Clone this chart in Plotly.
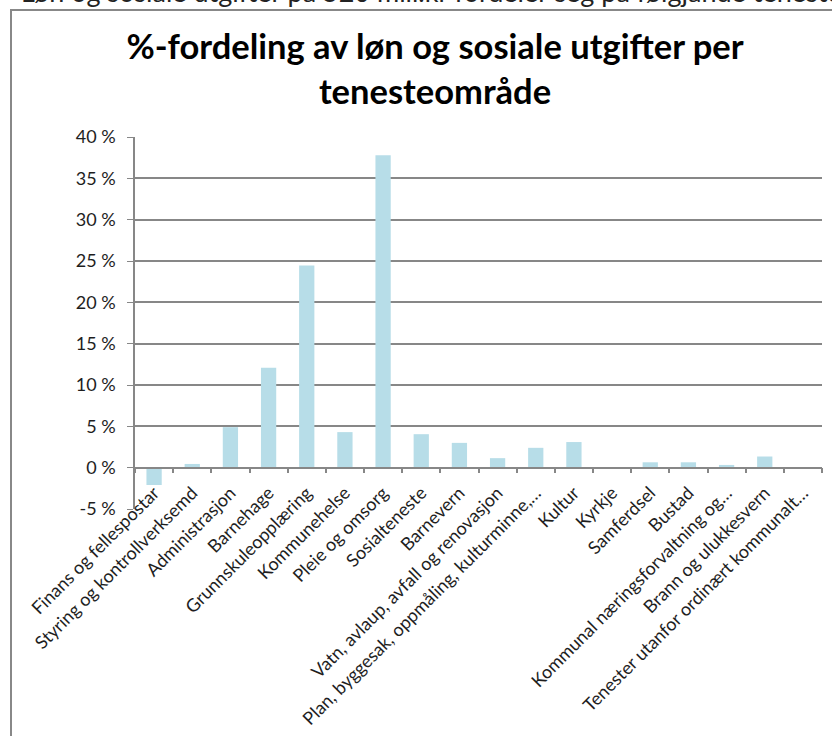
# %-fordeling av løn og sosiale utgifter per tenesteområde

import plotly.graph_objects as go

categories = [
    "Finans og fellespostar",
    "Styring og kontrollverksemd",
    "Administrasjon",
    "Barnehage",
    "Grunnskuleopplæring",
    "Kommunehelse",
    "Pleie og omsorg",
    "Sosialteneste",
    "Barnevern",
    "Vatn, avlaup, avfall og renovasjon",
    "Plan, byggesak, oppmåling, kulturminne,…",
    "Kultur",
    "Kyrkje",
    "Samferdsel",
    "Bustad",
    "Kommunal næringsforvaltning og…",
    "Brann og ulukkesvern",
    "Tenester utanfor ordinært kommunalt…",
]
share_pct = [-2.1, 0.45, 4.9, 12.1, 24.45, 4.3, 37.8, 4.05, 3.0, 1.15,
             2.4, 3.1, 0.0, 0.65, 0.65, 0.33, 1.35, 0.0]
zero_line = [0] * len(categories)

y_ticks = list(range(-5, 41, 5))
y_ticktext = [f"{v} %" for v in y_ticks]

title = "%-fordeling av løn og sosiale utgifter per<br>tenesteområde"
intro = "Løn og sosiale utgifter på 520 mill.kr fordeler seg på følgjande tenesteområde:"

FONT = "Lato, 'Open Sans', sans-serif"
GRID = "#878787"

# plot area in pixels (from the reference)
W, H = 832, 736
L, R, T, B = 135, 10, 137, 227
pw, ph = W - L - R, H - T - B


def px_x(x):
    return (x - L) / pw


def px_y(y):
    return (H - B - y) / ph


x_range = [-0.5, len(categories) - 0.5]

fig = go.Figure()
fig.add_trace(
    go.Bar(
        x=categories,
        y=share_pct,
        marker=dict(color="#b7dde8", line=dict(width=0)),
        hoverinfo="x+y",
    )
)
# invisible trace so the category axis at 0 % gets drawn
fig.add_trace(
    go.Scatter(
        x=categories,
        y=zero_line,
        xaxis="x2",
        mode="markers",
        marker=dict(opacity=0, size=1),
        hoverinfo="skip",
        showlegend=False,
    )
)

fig.update_layout(
    width=W,
    height=H,
    margin=dict(l=L, r=R, t=T, b=B),
    paper_bgcolor="white",
    plot_bgcolor="white",
    showlegend=False,
    bargap=0.6,
    font=dict(family=FONT, color="#222222", size=17),
    title=dict(
        text=title,
        font=dict(family=FONT, size=34.5, color="#000000", weight="bold"),
        x=435 / W,
        xanchor="center",
        xref="container",
        y=1 - 59 / H,
        yanchor="top",
        yref="container",
    ),
    xaxis=dict(
        type="category",
        range=x_range,
        tickangle=-45,
        showgrid=False,
        showline=False,
        ticks="",
        automargin=False,
        ticklabelstandoff=-31,
        ticklabelshift=0,
        tickfont=dict(family=FONT, size=18, color="#1e1e1e"),
    ),
    xaxis2=dict(
        matches="x",
        overlaying="x",
        anchor="free",
        position=5 / 45,
        showline=True,
        linecolor=GRID,
        linewidth=1.5,
        ticks="outside",
        tickson="boundaries",
        ticklen=5,
        tickcolor=GRID,
        tickwidth=1.5,
        showticklabels=False,
        showgrid=False,
        automargin=False,
    ),
    yaxis=dict(
        range=[-5, 40],
        tickvals=y_ticks,
        ticktext=y_ticktext,
        showgrid=True,
        gridcolor=GRID,
        gridwidth=1.5,
        zeroline=False,
        showline=True,
        linecolor=GRID,
        linewidth=1.5,
        ticks="outside",
        ticklen=6,
        tickcolor=GRID,
        automargin=False,
        ticklabelstandoff=8,
        tickfont=dict(family=FONT, size=18, color="#1e1e1e"),
    ),
    shapes=[
        dict(
            type="rect",
            xref="paper",
            yref="paper",
            x0=px_x(11),
            x1=px_x(860),
            y0=px_y(780),
            y1=px_y(10),
            line=dict(color="#888888", width=2),
            layer="below",
        ),
    ],
    annotations=[
        dict(
            text=intro,
            xref="paper",
            yref="paper",
            x=px_x(19),
            y=px_y(10),
            xanchor="left",
            yanchor="bottom",
            showarrow=False,
            font=dict(family=FONT, size=27, color="#222222"),
        )
    ],
)

# drop the default 8px body margin so the figure sits at the page corner
fig.write_html(
    "out.html",
    config={"displayModeBar": False},
    post_script="document.body.style.margin = '0';",
)
